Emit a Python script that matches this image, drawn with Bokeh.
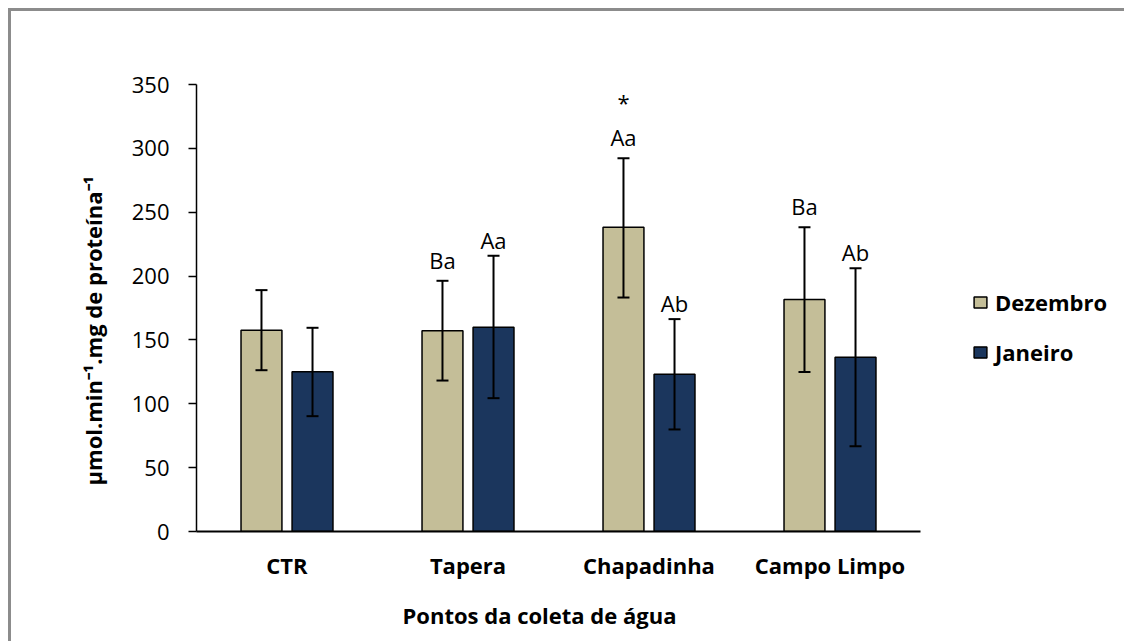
from bokeh.plotting import figure
from bokeh.models import (FactorRange, ColumnDataSource, Whisker, TeeHead, Legend,
                          LegendItem, Title, Range1d, FixedTicker)
from bokeh.transform import dodge
from bokeh.core.properties import value
from bokeh.embed import file_html
from bokeh.resources import INLINE

categories = ["CTR", "Tapera", "Chapadinha", "Campo Limpo"]
series = ["Dezembro", "Janeiro"]
dez_mean = [157.6, 157.1, 238.3, 181.7]
dez_upper = [189.0, 196.3, 292.3, 238.3]
dez_lower = [126.3, 118.2, 183.2, 124.8]
jan_mean = [125.0, 160.0, 123.2, 136.5]
jan_upper = [159.5, 215.9, 166.3, 206.2]
jan_lower = [90.3, 104.4, 79.9, 66.8]
dez_letters = ["", "Ba", "Aa", "Ba"]
jan_letters = ["", "Aa", "Ab", "Ab"]
dez_marks = ["", "", "*", ""]
y_ticks = [0, 50, 100, 150, 200, 250, 300, 350]
x_title = "Pontos da coleta de água"
y_title = "µmol.min⁻¹.mg de proteína⁻¹"

FONT = "Open Sans"
DEZ_COLOR = "#C4BE98"
JAN_COLOR = "#1B365D"
OFF = 0.141
BW = 0.226

src = ColumnDataSource(dict(
    cat=categories, dez=dez_mean, dez_up=dez_upper, dez_lo=dez_lower,
    jan=jan_mean, jan_up=jan_upper, jan_lo=jan_lower,
    dez_lab=dez_letters, jan_lab=jan_letters, dez_mark=dez_marks,
))

p = figure(x_range=FactorRange(*categories), y_range=Range1d(0, 350),
           frame_width=724, frame_height=447,
           min_border_left=185, min_border_right=196,
           min_border_top=73, min_border_bottom=102,
           output_backend="svg", toolbar_location=None)
p.styles = {"margin-left": "8px", "margin-top": "8px",
            "border-top": "3px solid #8c8c8c", "border-left": "3px solid #8c8c8c"}
p.outline_line_color = None
p.xgrid.visible = False
p.ygrid.visible = False

r_dez = p.vbar(x=dodge("cat", -OFF, range=p.x_range), top="dez", width=BW, source=src,
               fill_color=DEZ_COLOR, line_color="black", line_width=1.5)
r_jan = p.vbar(x=dodge("cat", OFF, range=p.x_range), top="jan", width=BW, source=src,
               fill_color=JAN_COLOR, line_color="black", line_width=1.5)

for off, up, lo in [(-OFF, "dez_up", "dez_lo"), (OFF, "jan_up", "jan_lo")]:
    w = Whisker(base=dodge("cat", off, range=p.x_range), upper=up, lower=lo, source=src,
                line_width=2, line_color="black", level="overlay",
                upper_head=TeeHead(size=12, line_width=2, line_color="black"),
                lower_head=TeeHead(size=12, line_width=2, line_color="black"))
    p.add_layout(w)

for off, up, lab, yoff in [(-OFF, "dez_up", "dez_lab", -21), (OFF, "jan_up", "jan_lab", -16),
                           (-OFF, "dez_up", "dez_mark", -56)]:
    p.text(x=dodge("cat", off, range=p.x_range), y=up, text=lab, source=src,
           y_offset=yoff, text_align="center", text_baseline="middle",
           text_font=value(FONT), text_font_size="22px", text_color="black")

# axes
p.yaxis.ticker = FixedTicker(ticks=y_ticks)
p.yaxis.minor_tick_line_color = None
p.yaxis.major_tick_out = 8
p.yaxis.major_tick_in = 0
p.yaxis.major_tick_line_width = 1.5
p.yaxis.axis_line_width = 1.5
p.yaxis.major_label_standoff = 19
p.yaxis.major_label_text_font = FONT
p.yaxis.major_label_text_font_size = "22px"
p.yaxis.major_label_text_color = "black"

p.add_layout(Title(text=y_title, align="left", offset=46, standoff=42,
                   text_font=FONT, text_font_style="bold", text_font_size="22px",
                   text_color="black"), "left")

p.xaxis.major_tick_line_color = None
p.xaxis.minor_tick_line_color = None
p.xaxis.axis_line_width = 2
p.xaxis.major_label_standoff = 12
p.xaxis.major_label_text_font = FONT
p.xaxis.major_label_text_font_style = "bold"
p.xaxis.major_label_text_font_size = "22px"
p.xaxis.major_label_text_color = "black"

p.add_layout(Title(text=x_title, align="left", offset=206, standoff=30,
                   text_font=FONT, text_font_style="bold", text_font_size="22px",
                   text_color="black"), "below")

legend = Legend(items=[LegendItem(label=series[0], renderers=[r_dez]),
                       LegendItem(label=series[1], renderers=[r_jan])],
                location=(52, 164), orientation="vertical",
                border_line_color=None, background_fill_alpha=0,
                padding=0, margin=0, glyph_width=16, glyph_height=14,
                label_standoff=7, spacing=20, label_height=14,
                label_text_font=FONT, label_text_font_style="bold",
                label_text_font_size="22px", label_text_color="black")
p.add_layout(legend, "right")

open("out.html", "w").write(file_html(p, INLINE))
